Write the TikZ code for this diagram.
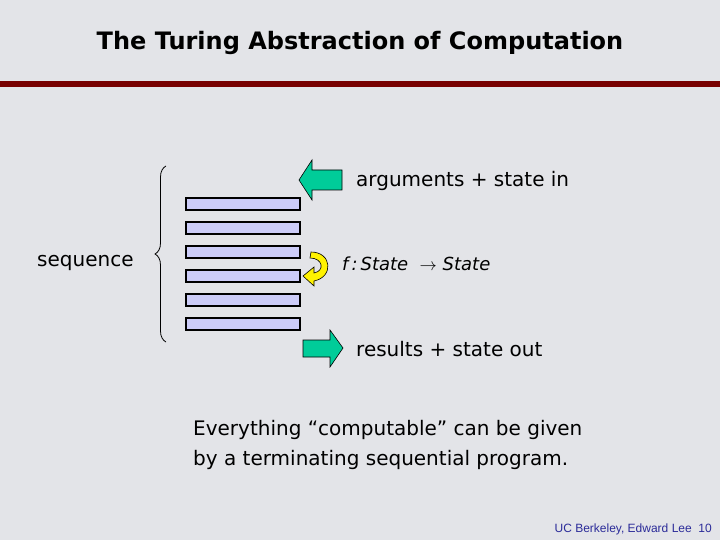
\documentclass[tikz,border=0pt]{standalone}
\usepackage{fontspec}
\setmainfont{DejaVu Sans}
\newfontfamily\arialf{Liberation Sans}
\usetikzlibrary{shapes.arrows,decorations.pathreplacing,arrows.meta}
\definecolor{bg}{HTML}{E3E4E8}
\definecolor{bar}{HTML}{CCCCF8}
\definecolor{grn}{HTML}{00CC99}
\definecolor{dred}{HTML}{780000}
\definecolor{navy}{HTML}{2B2B99}
\begin{document}
\begin{tikzpicture}[x=1pt,y=-1pt,
 barbox/.style={draw=black,line width=1.1pt,fill=bar},
 garrow/.style={draw=black,line width=0.6pt,fill=grn},
 txt/.style={anchor=west,font=\fontsize{20}{24}\selectfont,inner sep=0pt}]
\fill[bg] (0,0) rectangle (720,540);
\useasboundingbox (0,0) rectangle (720,540);
\node[font=\fontsize{24}{30}\selectfont\bfseries] (title) at (360,43) {The Turing Abstraction of Computation};
\fill[dred] (0,81) rectangle (720,87);
\foreach \i in {0,...,5}{
 \draw[barbox] (186,{198+24*\i}) rectangle (300,{210+24*\i});
}
\coordinate (b1) at (186,198);
\draw[line width=0.8pt,decorate,decoration={brace,amplitude=11pt}] (166,342) -- (166,166) node[midway] (br) {};
\node[txt] (seq) at (37,263) {sequence};
% green left arrow
\draw[garrow] (299,180) -- (312,160) -- (312,170) -- (342,170) -- (342,190) -- (312,190) -- (312,200) -- cycle;
\node[txt] (in) at (356,181) {arguments + state in};
% right arrow
\draw[garrow] (303,340) -- (330,340) -- (330,330) -- (343,348) -- (330,367) -- (330,357) -- (303,357) -- cycle;
\node[txt] (out) at (356,349) {results + state out};
% yellow curved arrow
\draw[draw=black,line width=0.6pt,fill=yellow] (311,252) .. controls (332,252) and (334,277) .. (314,281) -- (314,286) -- (303,276) -- (314,267) -- (314,273) .. controls (325,271) and (323,258) .. (310,258) -- cycle;
\node[txt,font=\fontsize{18}{22}\selectfont\itshape] (f) at (342,264) {f\,:\,State \ $\rightarrow$ State};
\node[anchor=west,inner sep=0pt,align=left,font=\fontsize{20}{30}\selectfont] (ev) at (193,445) {Everything “computable” can be given\\by a terminating sequential program.};
\node[anchor=east,inner sep=0pt,text=navy,font=\arialf\fontsize{12}{14}\selectfont] (foot) at (712,529) {UC Berkeley, Edward Lee\ \ 10};
\end{tikzpicture}
\end{document}
